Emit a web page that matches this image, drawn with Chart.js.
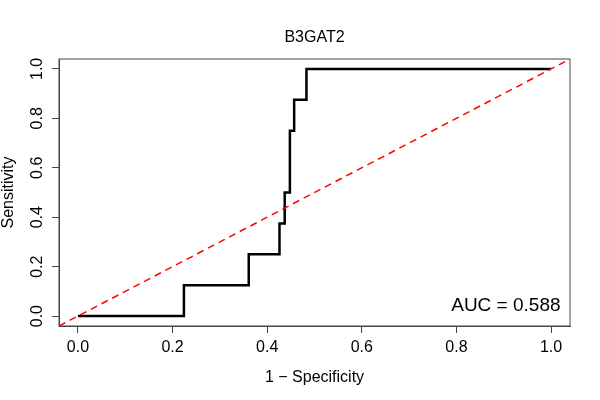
<!DOCTYPE html>
<html>
<head>
<meta charset="utf-8">
<script src="https://cdn.jsdelivr.net/npm/chart.js@4.4.1/dist/chart.umd.min.js"></script>
<style>
  html, body { margin: 0; padding: 0; background: #fff; }
  #wrap { width: 600px; height: 400px; }
</style>
</head>
<body>
<div id="wrap"><canvas id="roc" width="600" height="400"></canvas></div>
<script>
// ROC curve for B3GAT2
const fpr = [0.0, 0.224, 0.361, 0.426, 0.437, 0.448, 0.457, 0.483, 1.0];
const tpr = [0.0, 0.125, 0.25, 0.375, 0.5, 0.75, 0.875, 1.0, 1.0];
const diagX = [-0.04, 1.04];
const diagY = [-0.04, 1.04];
const tickValues = [0, 0.2, 0.4, 0.6, 0.8, 1.0];
const title = 'B3GAT2';
const xTitle = '1 \u2212 Specificity';
const yTitle = 'Sensitivity';
const aucText = 'AUC = 0.588';

const FONT = '"Liberation Sans", Arial, sans-serif';

// R-style box, y tick labels, titles and AUC note
const decorations = {
    id: 'decorations',
    afterDraw(chart) {
        const ctx = chart.ctx;
        const area = chart.chartArea;
        const xs = chart.scales.x;
        const ys = chart.scales.y;
        ctx.save();

        ctx.strokeStyle = '#444';
        ctx.lineWidth = 1;
        ctx.strokeRect(area.left, area.top, area.right - area.left, area.bottom - area.top);

        ctx.fillStyle = '#000';
        ctx.font = '16px ' + FONT;
        ctx.textAlign = 'center';
        ctx.textBaseline = 'alphabetic';
        ctx.fillText(title, (area.left + area.right) / 2, 42);
        ctx.fillText(xTitle, (area.left + area.right) / 2, 382);

        // rotated y labels
        ys.ticks.forEach(t => {
            const y = ys.getPixelForValue(t.value);
            ctx.save();
            ctx.translate(42, y);
            ctx.rotate(-Math.PI / 2);
            ctx.fillText(t.value.toFixed(1), 0, 0);
            ctx.restore();
        });
        ctx.save();
        ctx.translate(13, (area.top + area.bottom) / 2);
        ctx.rotate(-Math.PI / 2);
        ctx.fillText(yTitle, 0, 0);
        ctx.restore();

        ctx.font = '19px ' + FONT;
        ctx.textAlign = 'right';
        ctx.fillText(aucText, xs.getPixelForValue(1.02), 311);
        ctx.restore();
    }
};

const ctx = document.getElementById('roc').getContext('2d');
new Chart(ctx, {
    type: 'line',
    data: {
        datasets: [{
            label: 'diagonal',
            data: diagX.map((x, i) => ({ x: x, y: diagY[i] })),
            borderColor: '#ff0000',
            borderWidth: 1.5,
            borderDash: [7, 5],
            pointRadius: 0,
            fill: false
        }, {
            label: 'ROC',
            data: fpr.map((x, i) => ({ x: x, y: tpr[i] })),
            borderColor: '#000000',
            borderWidth: 2.5,
            stepped: 'before',
            pointRadius: 0,
            fill: false
        }]
    },
    options: {
        responsive: false,
        animation: false,
        devicePixelRatio: 1,
        layout: { padding: { left: 0, right: 30, top: 59, bottom: 0 } },
        plugins: {
            legend: { display: false },
            title: { display: false },
            tooltip: { enabled: false }
        },
        scales: {
            x: {
                type: 'linear',
                min: -0.04,
                max: 1.04,
                afterBuildTicks: s => { s.ticks = tickValues.map(v => ({ value: v })); },
                afterFit: s => { s.height = 74; },
                grid: { drawOnChartArea: false, drawTicks: true, tickLength: 7, color: '#444' },
                border: { display: true, color: '#444' },
                ticks: {
                    color: '#000',
                    padding: 5,
                    maxRotation: 0,
                    font: { family: FONT, size: 16 },
                    callback: v => v.toFixed(1)
                }
            },
            y: {
                type: 'linear',
                min: -0.04,
                max: 1.04,
                afterBuildTicks: s => { s.ticks = tickValues.map(v => ({ value: v })); },
                afterFit: s => { s.width = 59; },
                grid: { drawOnChartArea: false, drawTicks: true, tickLength: 7, color: '#444' },
                border: { display: true, color: '#444' },
                ticks: { display: false }
            }
        }
    },
    plugins: [decorations]
});
</script>
</body>
</html>
